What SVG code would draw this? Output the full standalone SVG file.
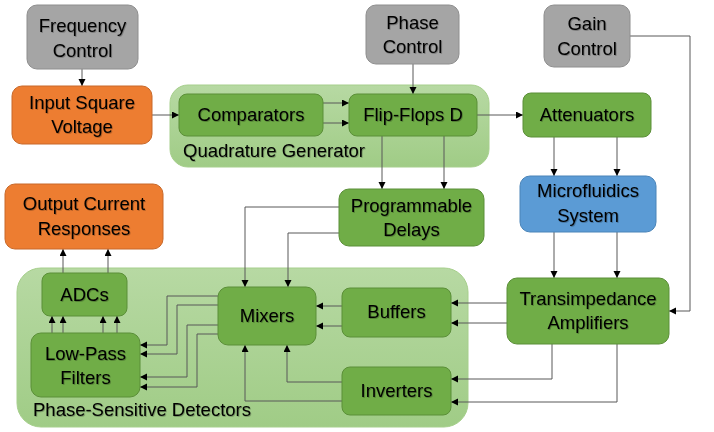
<svg xmlns="http://www.w3.org/2000/svg" width="714" height="432" viewBox="0 0 714 432">
<defs>
<linearGradient id="grpGrad" x1="0" y1="0" x2="0" y2="1">
<stop offset="0" stop-color="#b7d9a3"/>
<stop offset="1" stop-color="#a0cc86"/>
</linearGradient>
<marker id="arr" markerWidth="8" markerHeight="8" refX="7" refY="3.5" orient="auto" markerUnits="userSpaceOnUse">
<path d="M0,0 L7,3.5 L0,7 z" fill="#000"/>
</marker>
<filter id="ts" x="-10%" y="-30%" width="120%" height="160%">
<feDropShadow dx="0.8" dy="0.8" stdDeviation="0.6" flood-color="#000" flood-opacity="0.3"/>
</filter>
</defs>
<style>
text{font-family:"Liberation Sans",Arial,sans-serif;font-size:18.5px;fill:#000;text-anchor:middle;filter:url(#ts)}
.grp{fill:url(#grpGrad);stroke:#a6cf8c;stroke-width:1}
.grn{fill:#70ad47;stroke:#5b8f38;stroke-width:1}
.gry{fill:#a5a5a5;stroke:#8e8e8e;stroke-width:1}
.org{fill:#ed7d31;stroke:#c8692a;stroke-width:1}
.blu{fill:#5b9bd5;stroke:#4a84b8;stroke-width:1}
.lbl{text-anchor:start}
#connectors path{fill:none;stroke:#595959;stroke-width:1;marker-end:url(#arr)}
</style>
<rect width="714" height="432" fill="#fff"/>

<g id="quadrature-generator">
<rect class="grp" x="170" y="85" width="319" height="82" rx="18"/>
<text class="lbl" x="183" y="157">Quadrature Generator</text>
</g>
<g id="phase-sensitive-detectors">
<rect class="grp" x="17" y="268" width="451" height="159" rx="24"/>
<text class="lbl" x="33" y="416">Phase-Sensitive Detectors</text>
</g>

<g id="connectors">
<path d="M82,69 V86"/>
<path d="M152,115 H179"/>
<path d="M323,103 H349"/>
<path d="M323,123 H349"/>
<path d="M413,64 V94"/>
<path d="M477,115 H523"/>
<path d="M382,136 V189"/>
<path d="M444,136 V189"/>
<path d="M554,137 V176"/>
<path d="M617,137 V176"/>
<path d="M554,232 V278"/>
<path d="M617,232 V278"/>
<path d="M630,36 H690 V311 H669"/>
<path d="M507,303 H451"/>
<path d="M507,323 H451"/>
<path d="M342,306 H316"/>
<path d="M342,326 H316"/>
<path d="M552,344 V379 H451"/>
<path d="M617,344 V402 H451"/>
<path d="M342,382 H287 V345"/>
<path d="M342,401 H245 V345"/>
<path d="M339,207 H245 V287"/>
<path d="M339,233 H288 V287"/>
<path d="M218,296 H167 V345 H140"/>
<path d="M218,305 H177 V354 H140"/>
<path d="M218,325 H187 V377 H140"/>
<path d="M218,334 H197 V387 H140"/>
<path d="M52,333 V316"/>
<path d="M63,333 V316"/>
<path d="M103,333 V316"/>
<path d="M117,333 V316"/>
<path d="M63,273 V249"/>
<path d="M108,273 V249"/>
</g>

<g id="frequency-control">
<rect class="gry" x="27" y="5" width="111" height="64" rx="10"/>
<text x="82.5" y="31.5">Frequency</text>
<text x="82.5" y="56.5">Control</text>
</g>
<g id="phase-control">
<rect class="gry" x="366" y="5" width="93" height="59" rx="10"/>
<text x="412.5" y="29">Phase</text>
<text x="412.5" y="53">Control</text>
</g>
<g id="gain-control">
<rect class="gry" x="544" y="5" width="86" height="62" rx="10"/>
<text x="587" y="30">Gain</text>
<text x="587" y="55">Control</text>
</g>
<g id="input-square-voltage">
<rect class="org" x="12" y="86" width="140" height="58" rx="10"/>
<text x="82" y="109">Input Square</text>
<text x="82" y="133">Voltage</text>
</g>
<g id="comparators">
<rect class="grn" x="179" y="94" width="144" height="42" rx="8"/>
<text x="251" y="121">Comparators</text>
</g>
<g id="flip-flops-d">
<rect class="grn" x="349" y="94" width="128" height="42" rx="8"/>
<text x="413" y="121">Flip-Flops D</text>
</g>
<g id="attenuators">
<rect class="grn" x="523" y="93" width="128" height="44" rx="8"/>
<text x="587" y="121">Attenuators</text>
</g>
<g id="programmable-delays">
<rect class="grn" x="339" y="189" width="145" height="57" rx="10"/>
<text x="411.5" y="212">Programmable</text>
<text x="411.5" y="236">Delays</text>
</g>
<g id="microfluidics-system">
<rect class="blu" x="520" y="176" width="136" height="56" rx="10"/>
<text x="588" y="197">Microfluidics</text>
<text x="588" y="222">System</text>
</g>
<g id="output-current-responses">
<rect class="org" x="5" y="184" width="158" height="65" rx="10"/>
<text x="84" y="210">Output Current</text>
<text x="84" y="235">Responses</text>
</g>
<g id="adcs">
<rect class="grn" x="42" y="273" width="85" height="43" rx="8"/>
<text x="84.5" y="301">ADCs</text>
</g>
<g id="low-pass-filters">
<rect class="grn" x="31" y="333" width="109" height="64" rx="10"/>
<text x="85.5" y="360">Low-Pass</text>
<text x="85.5" y="384">Filters</text>
</g>
<g id="mixers">
<rect class="grn" x="218" y="287" width="98" height="58" rx="10"/>
<text x="267" y="322">Mixers</text>
</g>
<g id="buffers">
<rect class="grn" x="342" y="288" width="109" height="49" rx="8"/>
<text x="396.5" y="318">Buffers</text>
</g>
<g id="inverters">
<rect class="grn" x="342" y="367" width="109" height="48" rx="8"/>
<text x="396.5" y="397">Inverters</text>
</g>
<g id="transimpedance-amplifiers">
<rect class="grn" x="507" y="278" width="162" height="66" rx="10"/>
<text x="588" y="305">Transimpedance</text>
<text x="588" y="329">Amplifiers</text>
</g>
</svg>
